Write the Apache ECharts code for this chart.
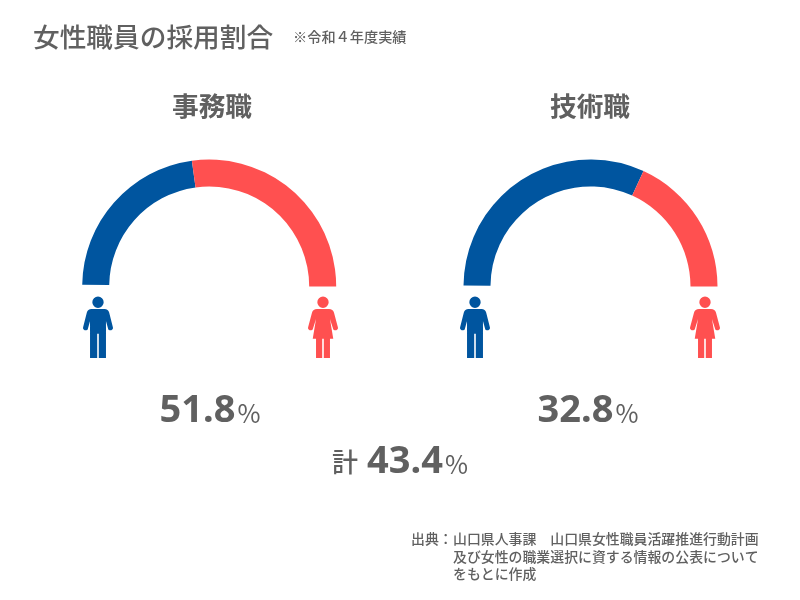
<!DOCTYPE html>
<html>
<head>
<meta charset="utf-8">
<title>女性職員の採用割合</title>
<style>
html, body { margin: 0; padding: 0; background: #fff; }
#chart { width: 800px; height: 600px; }
</style>
<script src="https://cdn.jsdelivr.net/npm/echarts@6/dist/echarts.min.js"></script>
</head>
<body>
<div id="chart"></div>
<script>
// printed numbers
const jobNames = ['事務職', '技術職']
const femaleRates = ['51.8', '32.8']
const totalRate = '43.4'

// arc shares as drawn in the picture (they differ a bit from the printed rates)
const sliceNames = ['男性', '女性']
const officeArc = [45.4, 54.6]
const techArc = [63.6, 36.4]

const sourceLines = [
    '山口県人事課　山口県女性職員活躍推進行動計画',
    '及び女性の職業選択に資する情報の公表について',
    'をもとに作成'
]

const BLUE = '#00559F'
const RED = '#FF5050'
const GREY = '#606060'
const FONT = '"Noto Sans CJK JP", "Noto Sans", sans-serif'

const MAN = 'M15 0a5.7 5.7 0 1 1 0 11.4a5.7 5.7 0 1 1 0-11.4z' +
    'M8.5 12.4H21.5C24 12.4 25.6 13.8 26.2 16L30 31C30.6 33.8 26 35 25.2 32.4L23 24.5V61.5H15.8V37.2H14.2V61.5H7V24.5L4.8 32.4C4 35-.6 33.8 0 31L3.8 16C4.4 13.8 6 12.4 8.5 12.4z'
const WOMAN = 'M15 0a5.7 5.7 0 1 1 0 11.4a5.7 5.7 0 1 1 0-11.4z' +
    'M9 12.4H21C23.6 12.4 25.4 13.8 26 16L30 31C30.6 33.8 26 35 25.2 32.4L22 22.5L25.3 42.2H22V61.5H15.8V42.2H14.2V61.5H8V42.2H4.7L8 22.5L4.8 32.4C4 35-.6 33.8 0 31L4 16C4.6 13.8 6.4 12.4 9 12.4z'

// icons: [left edge, 0 man / 1 woman]
const people = [[83, 0], [308, 1], [460, 0], [690, 1]]

function gauge(values, cx, startAngle) {
    return {
        type: 'pie',
        center: [cx, 286.5],
        radius: [100, 127],
        startAngle: startAngle,
        endAngle: 0,
        silent: true,
        label: { show: false },
        labelLine: { show: false },
        data: values.map((v, i) => ({
            name: sliceNames[i],
            value: v,
            itemStyle: { color: i === 0 ? BLUE : RED }
        }))
    }
}

function renderPerson(params, api) {
    const isWoman = api.value(1) === 1
    return {
        type: 'path',
        shape: {
            pathData: isWoman ? WOMAN : MAN,
            x: api.value(0),
            y: 296.5,
            width: 30,
            height: 61.5,
            layout: 'cover'
        },
        style: { fill: isWoman ? RED : BLUE }
    }
}

function rateTitle(text, cx, top) {
    return {
        text: text,
        left: cx,
        top: top,
        padding: 0,
        textAlign: 'center',
        textStyle: {
            rich: {
                pre: { fontFamily: FONT, fontSize: 26, color: GREY, fontWeight: 500, padding: [0, 9, 0, 0] },
                num: { fontFamily: '"Noto Sans", sans-serif', fontSize: 38, fontWeight: 700, color: GREY },
                pct: { fontFamily: FONT, fontSize: 25, fontWeight: 400, color: GREY, padding: [5, 0, 0, 2] }
            }
        }
    }
}

function plainTitle(text, left, top, size, weight) {
    return {
        text: text,
        left: left,
        top: top,
        padding: 0,
        textStyle: { fontFamily: FONT, fontSize: size, fontWeight: weight, color: GREY }
    }
}

const chart = echarts.init(document.getElementById('chart'))
chart.setOption({
    animation: false,
    backgroundColor: '#fff',
    title: [
        plainTitle('女性職員の採用割合', 33, 24, 26.7, 500),
        plainTitle('※令和４年度実績', 293, 30, 14.2, 500),
        plainTitle(jobNames[0], 172, 93, 26.7, 700),
        plainTitle(jobNames[1], 550, 93, 26.7, 700),
        rateTitle('{num|' + femaleRates[0] + '}{pct|%}', 210, 392),
        rateTitle('{num|' + femaleRates[1] + '}{pct|%}', 588, 392),
        rateTitle('{pre|計}{num|' + totalRate + '}{pct|%}', 400, 443),
        plainTitle('出典：', 411, 532, 13.9, 500),
        ...sourceLines.map((t, i) => plainTitle(t, 453, 532 + i * 17.6, 13.9, 500))
    ],
    series: [
        gauge(officeArc, 209.2, 179.2),
        gauge(techArc, 590.5, 179.5),
        {
            type: 'custom',
            coordinateSystem: 'none',
            silent: true,
            renderItem: renderPerson,
            data: people
        }
    ]
})
</script>
</body>
</html>
